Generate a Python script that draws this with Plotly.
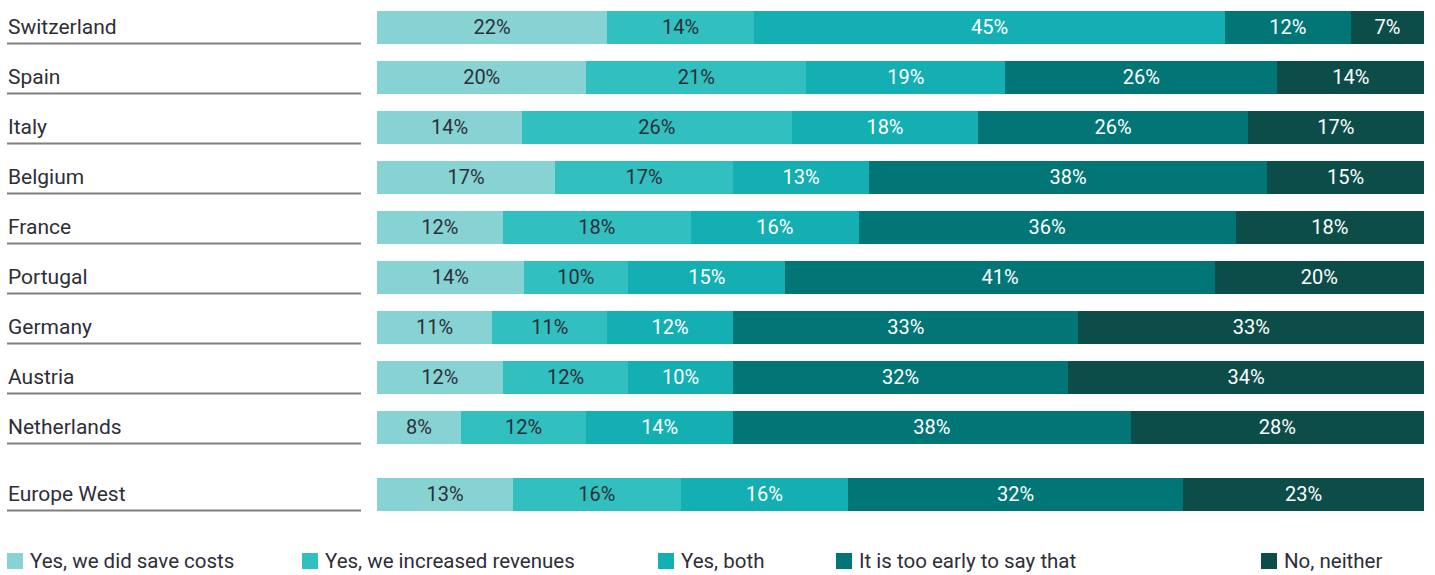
import plotly.graph_objects as go

countries = ["Switzerland", "Spain", "Italy", "Belgium", "France", "Portugal",
             "Germany", "Austria", "Netherlands", "Europe West"]
row_pos = [0, 1, 2, 3, 4, 5, 6, 7, 8, 9.34]

series_names = ["Yes, we did save costs", "Yes, we increased revenues", "Yes, both",
                "It is too early to say that", "No, neither"]
save_costs = [22, 20, 14, 17, 12, 14, 11, 12, 8, 13]
increased_revenues = [14, 21, 26, 17, 18, 10, 11, 12, 12, 16]
both = [45, 19, 18, 13, 16, 15, 12, 10, 14, 16]
too_early = [12, 26, 26, 38, 36, 41, 33, 32, 38, 32]
neither = [7, 14, 17, 15, 18, 20, 33, 34, 28, 23]

series_values = [save_costs, increased_revenues, both, too_early, neither]
colors = ["#87d3d3", "#31bfbf", "#14afb2", "#027677", "#0d4d49"]
text_colors = ["#2e2e38", "#2e2e38", "#ffffff", "#ffffff", "#ffffff"]

FONT = "Roboto"
W, H = 1435, 575
ML, MR, MT, MB = 377, 11, 0, 55
plot_w = W - ML - MR

fig = go.Figure()
for name, vals, col, tcol in zip(series_names, series_values, colors, text_colors):
    fig.add_trace(go.Bar(
        y=row_pos, x=vals, name=name, orientation="h",
        marker=dict(color=col, line=dict(width=0)),
        width=0.66,
        text=[f"{v}%" for v in vals],
        textposition="inside", insidetextanchor="middle",
        textangle=0, constraintext="none",
        textfont=dict(family=FONT, size=20, color=tcol),
        showlegend=False,
        hovertemplate="%{x}%<extra>" + name + "</extra>",
    ))

annotations = []
shapes = []
for c, p in zip(countries, row_pos):
    annotations.append(dict(
        x=(7 - ML) / plot_w, xref="paper", y=p, yref="y",
        text=c, showarrow=False, xanchor="left", yanchor="middle",
        xshift=-1,
        font=dict(family=FONT, size=21, color="#2e2e38"),
    ))
    shapes.append(dict(
        type="line", xref="paper", yref="y",
        x0=(7 - ML) / plot_w, x1=(361 - ML) / plot_w,
        y0=p + 0.33, y1=p + 0.33,
        line=dict(color="#7f7f7f", width=2),
    ))

# manual legend at bottom
legend_x = [7, 302, 658, 836, 1261]
plot_h = H - MT - MB
def ypaper(py):
    return 1 - (py - MT) / plot_h

for lx, name, col in zip(legend_x, series_names, colors):
    shapes.append(dict(
        type="rect", xref="paper", yref="paper",
        x0=(lx - ML) / plot_w, x1=(lx + 16 - ML) / plot_w,
        y0=ypaper(569), y1=ypaper(553),
        fillcolor=col, line=dict(width=0),
    ))
    annotations.append(dict(
        x=(lx + 21 - ML) / plot_w, xref="paper", y=ypaper(561), yref="paper",
        text=name, showarrow=False, xanchor="left", yanchor="middle",
        font=dict(family=FONT, size=20.5, color="#2e2e38"),
    ))

fig.update_layout(
    barmode="stack", barnorm="percent",
    width=W, height=H,
    margin=dict(l=ML, r=MR, t=MT, b=MB, autoexpand=False),
    paper_bgcolor="white", plot_bgcolor="white",
    xaxis=dict(range=[0, 100], visible=False, fixedrange=True),
    yaxis=dict(range=[9.86, -0.54], visible=False, fixedrange=True),
    annotations=annotations, shapes=shapes,
    font=dict(family=FONT),
    hovermode=False,
)

fig.write_html(
    "out.html",
    config={"displayModeBar": False, "staticPlot": True},
    post_script="document.body.style.margin='0';document.body.style.overflow='hidden';",
)
